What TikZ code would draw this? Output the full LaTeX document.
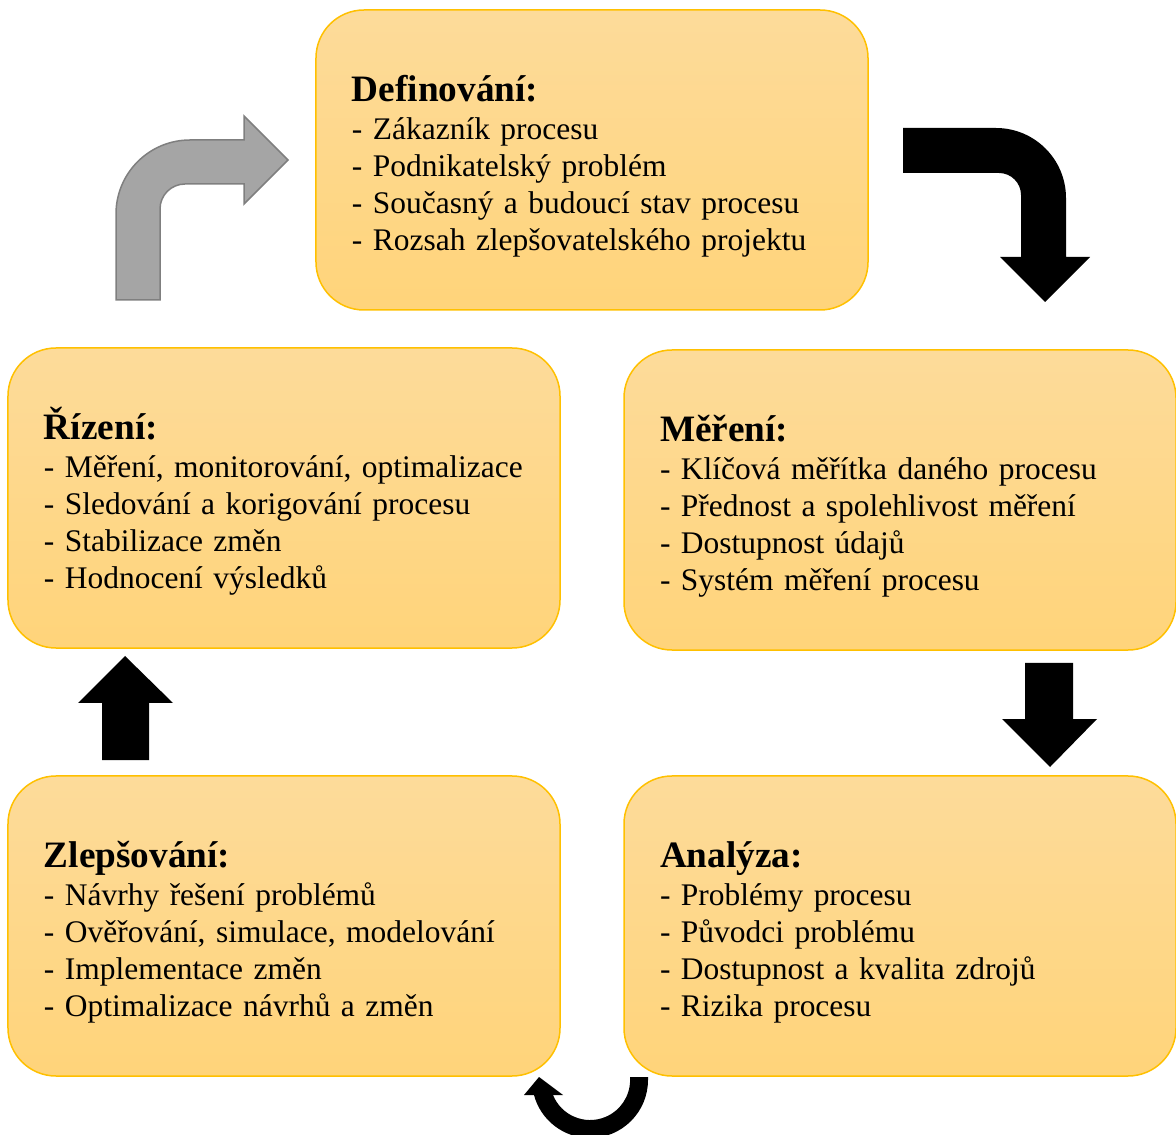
\documentclass[tikz,border=0pt]{standalone}
\usepackage{fontspec}
\setmainfont{Liberation Serif}
\usepackage{tikz}
\usetikzlibrary{shadings}
\definecolor{zlutaHorni}{RGB}{253,219,154}
\definecolor{zlutaDolni}{RGB}{255,212,122}
\definecolor{zlutaOkraj}{RGB}{255,192,0}
\definecolor{sedaVypln}{RGB}{165,165,165}
\definecolor{sedaOkraj}{RGB}{127,127,127}
\newcommand{\fazenadpis}[1]{{\fontsize{21.2}{22}\selectfont\bfseries\rule{0pt}{22pt}#1}\\[0.5pt]}

\begin{document}
\begin{tikzpicture}[x=0.2mm,y=-0.2mm,
  faze/.style={rectangle,rounded corners=9.6mm,draw=zlutaOkraj,line width=0.3mm,
    top color=zlutaHorni,bottom color=zlutaDolni,
    text width=96mm,inner xsep=7.2mm,inner ysep=0pt,minimum height=60mm,
    align=left,font=\fontsize{17.9}{21}\selectfont},
  sipka/.style={fill=black}]
  \useasboundingbox (0,0) rectangle (1176,1135);

  % Sipka dole (pod boxy)
  \fill[sipka] (648,1077) -- (648,1080) arc[start angle=0,end angle=-165,radius=11.6mm]
    -- (524,1095) -- (539,1077) -- (563,1095) -- (553,1095)
    arc[start angle=-158,end angle=0,radius=8mm] -- (630,1077) -- cycle;

  % Faze cyklu
  \node[faze] (definovani) at (592,160) {\fazenadpis{Definování:}
    - Zákazník procesu\\
    - Podnikatelský problém\\
    - Současný a budoucí stav procesu\\
    - Rozsah zlepšovatelského projektu};
  \node[faze] (mereni) at (900,500) {\fazenadpis{Měření:}
    - Klíčová měřítka daného procesu\\
    - Přednost a spolehlivost měření\\
    - Dostupnost údajů\\
    - Systém měření procesu};
  \node[faze] (analyza) at (900,926) {\fazenadpis{Analýza:}
    - Problémy procesu\\
    - Původci problému\\
    - Dostupnost a kvalita zdrojů\\
    - Rizika procesu};
  \node[faze] (zlepsovani) at (284,926) {\fazenadpis{Zlepšování:}
    - Návrhy řešení problémů\\
    - Ověřování, simulace, modelování\\
    - Implementace změn\\
    - Optimalizace návrhů a změn};
  \node[faze] (rizeni) at (284,498) {\fazenadpis{Řízení:}
    - Měření, monitorování, optimalizace\\
    - Sledování a korigování procesu\\
    - Stabilizace změn\\
    - Hodnocení výsledků};

  % Seda zahnuta sipka
  \filldraw[fill=sedaVypln,draw=sedaOkraj,line width=0.3mm]
    (116,300) -- (116,214) arc[start angle=180,end angle=90,radius=14.8mm]
    -- (244,140) -- (244,116) -- (288,160) -- (244,204) -- (244,184) -- (185,184)
    arc[start angle=90,end angle=180,radius=5mm] -- (160,300) -- cycle;

  % Cerna zahnuta sipka
  \fill[sipka] (903,128) -- (996,128) arc[start angle=90,end angle=0,radius=14mm]
    -- (1066,257) -- (1090,257) -- (1045,302) -- (1000,257) -- (1021,257) -- (1021,195)
    arc[start angle=0,end angle=90,radius=4.4mm] -- (903,173) -- cycle;

  % Rovne sipky
  \fill[sipka] (1025,663) -- (1073,663) -- (1073,719) -- (1097,719) -- (1050,767)
    -- (1002,719) -- (1025,719) -- cycle;
  \fill[sipka] (102,760) -- (102,703) -- (78,703) -- (125,656) -- (173,703)
    -- (149,703) -- (149,760) -- cycle;
\end{tikzpicture}
\end{document}
